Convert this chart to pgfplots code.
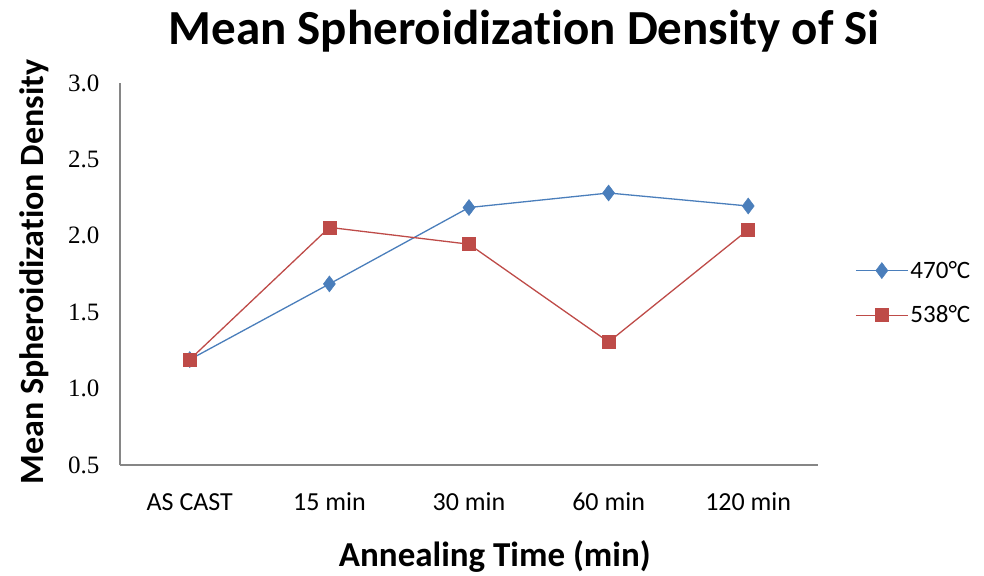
\documentclass[border=0pt]{standalone}
\usepackage{fontspec}
\setmainfont{Carlito}[Ligatures={CommonOff,ContextualOff}, Contextuals=NoAlternate]
\newfontfamily\serifnum{Liberation Serif}
\usepackage{pgfplots}
\pgfplotsset{compat=1.18}
\definecolor{xblue}{HTML}{4A7EBB}
\definecolor{xred}{HTML}{BE4B48}
\definecolor{axgray}{HTML}{868686}
\begin{document}
\begin{tikzpicture}
\begin{axis}[name=ax, at={(0,0)}, anchor=south west, scale only axis,
  width=698pt, height=382pt,
  xmin=-0.5, xmax=4.5, ymin=0.5, ymax=3.0,
  xtick={0,1,2,3,4}, xticklabels={AS CAST,15 min,30 min,60 min,120 min},
  ytick={0.5,1.0,1.5,2.0,2.5,3.0},
  yticklabel style={/pgf/number format/fixed, /pgf/number format/fixed zerofill, /pgf/number format/precision=1, /pgf/number format/assume math mode=true},
  yticklabel style={font=\serifnum\fontsize{25}{25}\selectfont, anchor=east, xshift=-17pt},
  xticklabel style={font=\fontsize{26}{26}\selectfont, anchor=base, yshift=-45pt},
  axis x line*=bottom, axis y line*=left,
  axis line style={draw=axgray, line width=1.3pt},
  major tick length=0pt,
  title={Mean Spheroidizat\kern0pt ion Density of Si},
  title style={at={(0.579,1.086)}, anchor=base, font=\bfseries\fontsize{49}{49}\selectfont},
  ylabel={Mean Spheroidizat\kern0pt ion Density},
  ylabel style={at={(-0.110,0.505)}, anchor=base, font=\bfseries\fontsize{34}{34}\selectfont},
  xlabel={Annealing Time (min)},
  xlabel style={at={(0.537,-0.267)}, anchor=base, font=\bfseries\fontsize{35}{35}\selectfont},
  legend style={at={(1.053,0.539)}, anchor=north west, draw=none, fill=none,
    font=\fontsize{25}{25}\selectfont, row sep=22pt, inner sep=0pt,
    /tikz/every even column/.append style={column sep=7pt}},
  legend cell align=left,
  legend image code/.code={\draw[mark repeat=2,mark phase=2] plot coordinates {(0pt,0pt) (26pt,0pt) (52pt,0pt)};},
]
\addplot[color=xblue, line width=1.3pt, mark=diamond*, mark size=8pt, mark options={fill=xblue, draw=xblue, line width=0.5pt}]
  coordinates {(0,1.19) (1,1.685) (2,2.185) (3,2.28) (4,2.195)};
\addlegendentry{470°C}
\addplot[color=xred, line width=1.3pt, mark=square*, mark size=6.5pt, mark options={fill=xred, draw=xred, line width=0.5pt}]
  coordinates {(0,1.19) (1,2.055) (2,1.945) (3,1.305) (4,2.04)};
\addlegendentry{538°C}
\end{axis}
\pgfresetboundingbox
\path[use as bounding box] ([shift={(-120pt,-110pt)}]ax.south west) rectangle ([shift={(864pt,465pt)}]ax.south west);
\end{tikzpicture}
\end{document}
